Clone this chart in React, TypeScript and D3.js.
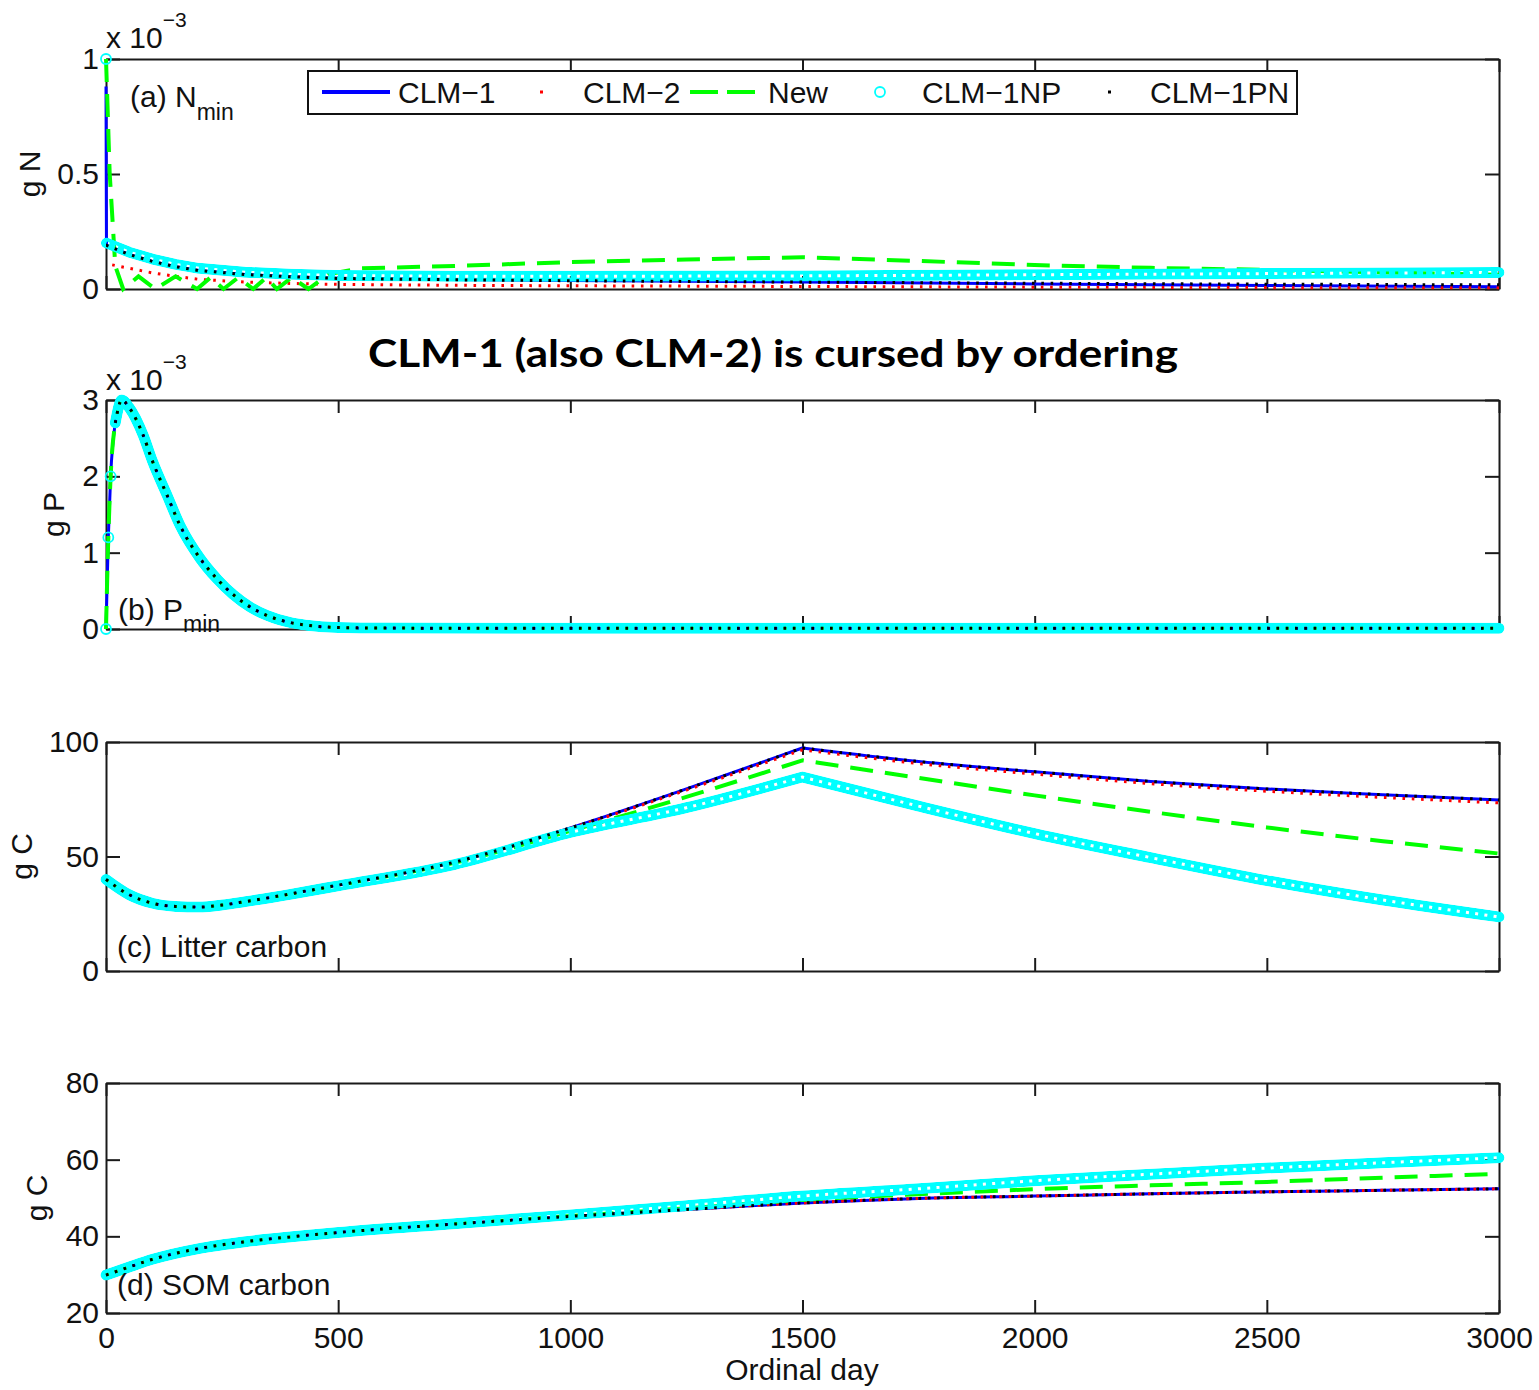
import { useEffect, useRef } from "react";
import * as d3 from "d3";

const xTicks = [0, 500, 1000, 1500, 2000, 2500, 3000];
const legendNames = ["CLM−1", "CLM−2", "New", "CLM−1NP", "CLM−1PN"];

// (a) N_min, in units of 1e-3 gN
const nDays = [0, 1, 50, 100, 150, 200, 300, 400, 500, 750, 1000, 1500, 2000, 2500, 3000];
const nCLM1 = [0.88, 0.19, 0.15, 0.12, 0.097, 0.08, 0.063, 0.053, 0.047, 0.041, 0.037, 0.03, 0.022, 0.015, 0.01];
const nCLM2 = [0.11, 0.11, 0.09, 0.07, 0.055, 0.042, 0.03, 0.024, 0.02, 0.016, 0.014, 0.011, 0.008, 0.006, 0.005];
const nCLM1NP = [1.0, 0.2, 0.16, 0.13, 0.107, 0.09, 0.073, 0.064, 0.059, 0.055, 0.055, 0.057, 0.062, 0.067, 0.072];
const nCLM1PN = [0.19, 0.19, 0.15, 0.12, 0.097, 0.08, 0.063, 0.053, 0.046, 0.04, 0.036, 0.03, 0.025, 0.021, 0.018];
const nNewDays = [0, 8, 20, 37, 70, 106, 150, 196, 225, 253, 285, 317, 345, 368, 400, 436, 480, 550, 750, 1000, 1250, 1500, 1750, 2000, 2250, 2500, 2750, 3000];
const nNew = [1.0, 0.5, 0.1, 0.0, 0.055, 0.0, 0.055, 0.0, 0.05, 0.0, 0.05, 0.0, 0.05, 0.0, 0.05, 0.0, 0.065, 0.09, 0.1, 0.117, 0.128, 0.138, 0.122, 0.104, 0.092, 0.083, 0.072, 0.062];
const nTicks = [0, 0.5, 1];

// (b) P_min, in units of 1e-3 gP (all five runs overlap)
const pDays = [0, 5, 10, 20, 34, 50, 80, 100, 131, 160, 202, 240, 274, 310, 346, 400, 432, 500, 600, 1000, 1500, 2000, 2500, 3000];
const pAll = [0, 1.2, 2.0, 2.7, 3.0, 2.9, 2.54, 2.2, 1.76, 1.35, 0.93, 0.65, 0.45, 0.29, 0.18, 0.08, 0.05, 0.02, 0.012, 0.01, 0.01, 0.01, 0.01, 0.01];
const pTicks = [0, 1, 2, 3];

// (c) Litter carbon, gC
const cDays = [0, 50, 100, 150, 200, 250, 300, 400, 500, 750, 1000, 1250, 1500, 1750, 2000, 2250, 2500, 2750, 3000];
const cCLM1 = [40, 33.3, 29.6, 28.2, 27.9, 28.8, 30.3, 33.8, 37.5, 47.5, 62.5, 79.5, 97.4, 91.5, 87, 82.8, 79.5, 77, 74.7];
const cCLM2 = [40, 33.3, 29.6, 28.2, 27.9, 28.8, 30.3, 33.8, 37.5, 47.5, 62.3, 79, 96.6, 90.6, 86, 81.8, 78.5, 75.8, 73.4];
const cNew = [40, 33.3, 29.6, 28.2, 27.9, 28.8, 30.3, 33.8, 37.5, 47.2, 61.2, 76, 92, 84.3, 76.7, 69.5, 62.7, 56.7, 51.3];
const cCLM1NP = [40, 33.3, 29.6, 28.2, 27.9, 28.8, 30.3, 33.6, 37.2, 46.5, 60.5, 71.3, 84.7, 72, 60, 49.5, 39.5, 31, 23.6];
const cCLM1PN = cCLM1;
const cTicks = [0, 50, 100];

// (d) SOM carbon, gC
const dDays = [0, 50, 100, 200, 300, 400, 500, 750, 1000, 1250, 1500, 1750, 2000, 2250, 2500, 2750, 3000];
const dCLM1 = [29.9, 32, 34, 36.8, 38.6, 39.9, 41, 43.2, 45.2, 47, 48.7, 49.9, 50.5, 51.1, 51.6, 52, 52.4];
const dCLM2 = dCLM1;
const dNew = [29.9, 32, 34, 36.8, 38.6, 39.9, 41, 43.2, 45.3, 47.3, 49.5, 51, 52.3, 53.3, 54.2, 55.3, 56.3];
const dCLM1NP = [29.9, 32, 34, 36.8, 38.6, 39.9, 41, 43.3, 45.6, 48, 50.5, 52.4, 54.5, 56.2, 57.8, 59.2, 60.5];
const dCLM1PN = dCLM1;
const dTicks = [20, 40, 60, 80];

const FONT = "'Liberation Sans', Arial, Helvetica, sans-serif";

const styles = [
  { kind: "line", color: "#0000ff" },
  { kind: "dots", color: "#ff0000" },
  { kind: "dash", color: "#00ff00" },
  { kind: "circles", color: "#00ffff" },
  { kind: "dots", color: "#000000" },
];

const panels = [
  {
    top: 59, bottom: 289, domain: [0, 1], ticks: nTicks, yLabel: "g N", yLabelX: 40,
    exponentY: 48, curve: d3.curveLinear, kinkDay: null,
    series: [
      { days: nDays, values: nCLM1 },
      { days: nDays, values: nCLM2 },
      { days: nNewDays, values: nNew },
      { days: nDays, values: nCLM1NP },
      { days: nDays, values: nCLM1PN },
    ],
  },
  {
    top: 400, bottom: 629, domain: [0, 3], ticks: pTicks, yLabel: "g P", yLabelX: 64,
    exponentY: 390, curve: d3.curveMonotoneX, kinkDay: null,
    series: [0, 1, 2, 3, 4].map(() => ({ days: pDays, values: pAll })),
  },
  {
    top: 742, bottom: 971, domain: [0, 100], ticks: cTicks, yLabel: "g C", yLabelX: 32,
    exponentY: null, curve: d3.curveMonotoneX, kinkDay: 1500,
    series: [
      { days: cDays, values: cCLM1 },
      { days: cDays, values: cCLM2 },
      { days: cDays, values: cNew },
      { days: cDays, values: cCLM1NP },
      { days: cDays, values: cCLM1PN },
    ],
  },
  {
    top: 1083, bottom: 1313, domain: [20, 80], ticks: dTicks, yLabel: "g C", yLabelX: 47,
    exponentY: null, curve: d3.curveMonotoneX, kinkDay: null,
    series: [
      { days: dDays, values: dCLM1 },
      { days: dDays, values: dCLM2 },
      { days: dDays, values: dNew },
      { days: dDays, values: dCLM1NP },
      { days: dDays, values: dCLM1PN },
    ],
  },
];

const Chart = () => {
  const svgRef = useRef<SVGSVGElement | null>(null);

  useEffect(() => {
    if (!svgRef.current) return;
    const svg = d3.select(svgRef.current);
    svg.selectAll("*").remove();

    svg.append("rect").attr("width", 1539).attr("height", 1390).attr("fill", "#fff");
    const defs = svg.append("defs");

    const x = d3.scaleLinear().domain([0, 3000]).range([106, 1499]);
    let maskCount = 0;

    panels.forEach((p, pi) => {
      const y = d3.scaleLinear().domain(p.domain).range([p.bottom, p.top]);
      const g = svg.append("g");
      const isLast = pi === panels.length - 1;

      const styleAxis = (a: d3.Selection<SVGGElement, unknown, null, undefined>) => {
        a.selectAll("path, line").attr("stroke", "#1a1a1a").attr("stroke-width", 2);
        a.selectAll("text")
          .attr("font-size", 30)
          .attr("font-family", FONT)
          .attr("fill", "#111");
      };

      const bottomAxis = d3.axisBottom(x).tickValues(xTicks).tickSizeInner(-13).tickSizeOuter(0).tickPadding(14)
        .tickFormat(isLast ? d3.format("d") : () => "");
      g.append("g").attr("transform", `translate(0,${p.bottom})`).call(bottomAxis).call(styleAxis);

      const topAxis = d3.axisTop(x).tickValues(xTicks).tickSizeInner(-13).tickSizeOuter(0).tickFormat(() => "");
      g.append("g").attr("transform", `translate(0,${p.top})`).call(topAxis).call(styleAxis);

      const leftAxis = d3.axisLeft(y).tickValues(p.ticks).tickSizeInner(-14).tickSizeOuter(0).tickPadding(7)
        .tickFormat((d) => String(d));
      g.append("g").attr("transform", "translate(106,0)").call(leftAxis).call(styleAxis);

      const rightAxis = d3.axisRight(y).tickValues(p.ticks).tickSizeInner(-14).tickSizeOuter(0).tickFormat(() => "");
      g.append("g").attr("transform", "translate(1499,0)").call(rightAxis).call(styleAxis);

      const line = d3.line<[number, number]>().curve(p.curve);
      // a sharp corner (litter input stops at day 1500): smooth each side separately
      const pathFor = (seg: [number, number][], days: number[]) => {
        if (p.kinkDay === null) return line(seg) ?? "";
        const k = days.indexOf(p.kinkDay);
        if (k <= 0 || k >= seg.length - 1) return line(seg) ?? "";
        const a = line(seg.slice(0, k + 1)) ?? "";
        const b = (line(seg.slice(k)) ?? "").replace(/^M[^CLZ]*/, "");
        return a + b;
      };

      p.series.forEach((s, si) => {
        const st = styles[si];
        const pts = s.days.map((d, i) => [x(d), y(s.values[i])] as [number, number]);
        const markerOnly = st.kind === "dots" || st.kind === "circles";
        const segments: { pts: [number, number][]; days: number[] }[] = [];
        pts.forEach((pt, i) => {
          if (i === 0 || (markerOnly && Math.abs(pt[1] - pts[i - 1][1]) > 45)) {
            segments.push({ pts: [pt], days: [s.days[i]] });
          } else {
            segments[segments.length - 1].pts.push(pt);
            segments[segments.length - 1].days.push(s.days[i]);
          }
        });

        segments.forEach((seg) => {
          if (seg.pts.length === 1) {
            if (st.kind === "circles") {
              g.append("circle").attr("cx", seg.pts[0][0]).attr("cy", seg.pts[0][1]).attr("r", 5)
                .attr("fill", "none").attr("stroke", st.color).attr("stroke-width", 1.8);
            }
            return;
          }
          const d = pathFor(seg.pts, seg.days);
          if (st.kind === "line") {
            g.append("path").attr("d", d).attr("fill", "none").attr("stroke", st.color).attr("stroke-width", 3);
          } else if (st.kind === "dash") {
            g.append("path").attr("d", d).attr("fill", "none").attr("stroke", st.color)
              .attr("stroke-width", 4).attr("stroke-dasharray", "23 12");
          } else if (st.kind === "circles") {
            // dense open circles: a band with small see-through holes
            const id = `ring-mask-${maskCount++}`;
            const mask = defs.append("mask").attr("id", id).attr("maskUnits", "userSpaceOnUse")
              .attr("x", 0).attr("y", 0).attr("width", 1539).attr("height", 1390);
            mask.append("path").attr("d", d).attr("fill", "none").attr("stroke", "#fff")
              .attr("stroke-width", 11).attr("stroke-linecap", "round").attr("stroke-linejoin", "round");
            mask.append("path").attr("d", d).attr("fill", "none").attr("stroke", "#000")
              .attr("stroke-width", 3).attr("stroke-dasharray", "3 6.3");
            g.append("path").attr("d", d).attr("fill", "none").attr("stroke", st.color)
              .attr("stroke-width", 11).attr("stroke-linecap", "round").attr("stroke-linejoin", "round")
              .attr("mask", `url(#${id})`);
          } else {
            g.append("path").attr("d", d).attr("fill", "none").attr("stroke", st.color)
              .attr("stroke-width", 3).attr("stroke-dasharray", "2.6 6.7")
              .attr("stroke-dashoffset", si === 1 ? 3 : 0);
          }
        });
      });

      g.append("text")
        .attr("transform", `translate(${p.yLabelX},${(p.top + p.bottom) / 2}) rotate(-90)`)
        .attr("text-anchor", "middle")
        .attr("font-size", 30)
        .attr("font-family", FONT)
        .attr("fill", "#111")
        .text(p.yLabel);

      if (p.exponentY !== null) {
        const t = g.append("text")
          .attr("x", 106)
          .attr("y", p.exponentY)
          .attr("font-size", 30)
          .attr("font-family", FONT)
          .attr("fill", "#111")
          .text("x 10");
        t.append("tspan").attr("dy", -21).attr("font-size", 21).text("−3");
      }
    });

    const label = (xPos: number, yPos: number, main: string, sub?: string, subDy = 13) => {
      const t = svg.append("text")
        .attr("x", xPos)
        .attr("y", yPos)
        .attr("font-size", 30)
        .attr("font-family", FONT)
        .attr("fill", "#111")
        .text(main);
      if (sub) t.append("tspan").attr("dy", subDy).attr("font-size", 23).text(sub);
    };
    label(130, 107, "(a) N", "min", 13);
    label(118, 620, "(b) P", "min", 12);
    label(117, 957, "(c) Litter carbon");
    label(117, 1295, "(d) SOM carbon");

    svg.append("text")
      .attr("x", 802)
      .attr("y", 1380)
      .attr("text-anchor", "middle")
      .attr("font-size", 30)
      .attr("font-family", FONT)
      .attr("fill", "#111")
      .text("Ordinal day");

    svg.append("text")
      .attr("x", 773)
      .attr("y", 367)
      .attr("text-anchor", "middle")
      .attr("font-size", 38)
      .attr("font-weight", "bold")
      .attr("font-family", "Lato, 'Open Sans', sans-serif")
      .attr("textLength", 810)
      .attr("lengthAdjust", "spacingAndGlyphs")
      .attr("fill", "#000")
      .text("CLM-1 (also CLM-2) is cursed by ordering");

    // legend
    const lg = svg.append("g");
    lg.append("rect").attr("x", 308).attr("y", 71).attr("width", 989).attr("height", 43)
      .attr("fill", "#fff").attr("stroke", "#111").attr("stroke-width", 2);
    const ly = 92;
    lg.append("line").attr("x1", 322).attr("x2", 390).attr("y1", ly).attr("y2", ly)
      .attr("stroke", styles[0].color).attr("stroke-width", 4);
    lg.append("rect").attr("x", 540).attr("y", ly - 1.5).attr("width", 3).attr("height", 3).attr("fill", styles[1].color);
    lg.append("line").attr("x1", 690).attr("x2", 760).attr("y1", ly).attr("y2", ly)
      .attr("stroke", styles[2].color).attr("stroke-width", 4).attr("stroke-dasharray", "28 9");
    lg.append("circle").attr("cx", 880).attr("cy", ly).attr("r", 5)
      .attr("fill", "none").attr("stroke", styles[3].color).attr("stroke-width", 1.8);
    lg.append("rect").attr("x", 1108).attr("y", ly - 1.5).attr("width", 3).attr("height", 3).attr("fill", styles[4].color);
    const textX = [398, 583, 768, 922, 1150];
    legendNames.forEach((name, i) => {
      lg.append("text")
        .attr("x", textX[i])
        .attr("y", 103)
        .attr("font-size", 30)
        .attr("font-family", FONT)
        .attr("fill", "#111")
        .text(name);
    });
  }, []);

  return (
    <svg
      ref={svgRef}
      width={1539}
      height={1390}
      style={{ position: "absolute", left: 0, top: 0, display: "block" }}
    />
  );
};

export default function App() {
  return <Chart />;
}
